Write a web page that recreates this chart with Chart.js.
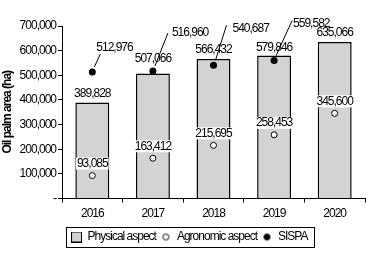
<!DOCTYPE html>
<html>
<head>
<meta charset="utf-8">
<script src="https://cdn.jsdelivr.net/npm/chart.js@4"></script>
<style>
  html, body { margin: 0; padding: 0; background: #fff; }
  #wrap { width: 371px; height: 255px; }
</style>
</head>
<body>
<div id="wrap"><canvas id="chart" width="371" height="255"></canvas></div>
<script>
const years = ['2016', '2017', '2018', '2019', '2020'];
const physical = [389828, 507066, 566432, 579846, 635066];
const agronomic = [93085, 163412, 215695, 258453, 345600];
const sispa = [512976, 516960, 540687, 559582, null];

// no narrow face installed, so squeeze Liberation Sans a bit
const FONT = "'Liberation Sans Narrow', 'Liberation Sans', Arial, sans-serif";
const SQUEEZE = '-1px';
const fmt = v => v.toLocaleString('en-US');

// small icons for the legend
function icon(kind) {
    const c = document.createElement('canvas');
    const g = c.getContext('2d');
    if (kind === 'rect') {
        c.width = 11; c.height = 11;
        g.fillStyle = '#d3d3d3';
        g.fillRect(0.5, 0.5, 10, 10);
        g.strokeStyle = '#000';
        g.lineWidth = 1;
        g.strokeRect(0.5, 0.5, 10, 10);
    } else {
        c.width = 9; c.height = 9;
        g.beginPath();
        g.arc(4.5, 4.5, 3, 0, Math.PI * 2);
        g.fillStyle = kind === 'open' ? '#fff' : '#000';
        g.fill();
        g.strokeStyle = '#000';
        g.lineWidth = 1;
        g.stroke();
    }
    return c;
}
const icons = [icon('rect'), icon('open'), icon('dot')];

const squeeze = {
    id: 'squeeze',
    afterInit(chart) { chart.ctx.letterSpacing = SQUEEZE; },
    beforeUpdate(chart) { chart.ctx.letterSpacing = SQUEEZE; },
    afterLayout(chart) {
        // legend sits a little right of centre in the original
        chart.legend.left += 7;
        chart.legend.right += 7;
    },
    beforeDraw(chart) { chart.ctx.letterSpacing = SQUEEZE; }
};

const valueLabels = {
    id: 'valueLabels',
    afterDatasetsDraw(chart, args, opts) {
        const ctx = chart.ctx;
        ctx.save();
        ctx.font = '12px ' + FONT;
        ctx.fillStyle = '#000';
        ctx.textAlign = 'center';
        ctx.textBaseline = 'middle';

        // bar values
        chart.getDatasetMeta(0).data.forEach((bar, i) => {
            ctx.fillText(fmt(physical[i]), bar.x, bar.y - opts.barGap[i]);
        });

        // agronomic values with white backing
        chart.getDatasetMeta(1).data.forEach((pt, i) => {
            const t = fmt(agronomic[i]);
            const w = ctx.measureText(t).width;
            const y = pt.y - 12;
            ctx.fillStyle = '#fff';
            ctx.fillRect(pt.x - w / 2 - 1, y - 6, w + 2, 12);
            ctx.fillStyle = '#000';
            ctx.fillText(t, pt.x, y);
        });

        // SISPA values with leader lines
        ctx.textAlign = 'left';
        ctx.strokeStyle = '#000';
        ctx.lineWidth = 1;
        chart.getDatasetMeta(2).data.forEach((pt, i) => {
            if (sispa[i] == null) return;
            const [lx, ly] = opts.sispaText[i];
            const [ex, ey] = opts.sispaLine[i];
            ctx.beginPath();
            ctx.moveTo(pt.x + 2, pt.y - 5);
            ctx.lineTo(pt.x + ex, pt.y + ey);
            ctx.stroke();
            ctx.fillText(fmt(sispa[i]), pt.x + lx, pt.y + ly);
        });
        ctx.restore();
    },
    afterDraw(chart) {
        const lg = chart.legend;
        if (!lg || !lg.legendHitBoxes.length) return;
        const boxes = lg.legendHitBoxes;
        const first = boxes[0], last = boxes[boxes.length - 1];
        const cy = first.top + first.height / 2;
        const ctx = chart.ctx;
        ctx.save();
        ctx.strokeStyle = '#000';
        ctx.lineWidth = 1;
        ctx.strokeRect(Math.round(first.left - 6) + 0.5, Math.round(cy - 10) + 0.5,
            Math.round(last.left + last.width + 6 - (first.left - 6)), 20);
        ctx.restore();
    }
};

new Chart(document.getElementById('chart').getContext('2d'), {
    type: 'bar',
    data: {
        labels: years,
        datasets: [{
            label: 'Physical aspect',
            data: physical,
            backgroundColor: '#d3d3d3',
            borderColor: '#000',
            borderWidth: 1.5,
            barPercentage: 0.56,
            categoryPercentage: 1,
            order: 2
        }, {
            type: 'line',
            label: 'Agronomic aspect',
            data: agronomic,
            showLine: false,
            pointRadius: 3,
            pointBackgroundColor: '#fff',
            pointBorderColor: '#000',
            pointBorderWidth: 1,
            order: 1
        }, {
            type: 'line',
            label: 'SISPA',
            data: sispa,
            showLine: false,
            pointRadius: 3.5,
            pointBackgroundColor: '#000',
            pointBorderColor: '#000',
            pointBorderWidth: 0,
            order: 1
        }]
    },
    options: {
        responsive: false,
        animation: false,
        devicePixelRatio: 1,
        layout: { padding: { top: 26, right: 6, bottom: 2, left: 0 } },
        scales: {
            x: {
                afterFit: s => { s.height = 27.5; },
                grid: { display: true, drawOnChartArea: false, tickLength: 4, color: '#000' },
                border: { color: '#000', width: 1 },
                ticks: { color: '#000', font: { family: FONT, size: 12 }, padding: 4 }
            },
            y: {
                min: 0,
                max: 700000,
                afterFit: s => { s.width = 62; },
                grid: { display: true, drawOnChartArea: false, tickLength: 4, color: '#000' },
                border: { color: '#000', width: 1 },
                ticks: {
                    stepSize: 100000,
                    color: '#000',
                    padding: 2,
                    font: { family: FONT, size: 12 },
                    callback: v => v === 0 ? '-' : fmt(v)
                },
                title: {
                    display: true,
                    text: 'Oil palm area (ha)',
                    color: '#000',
                    padding: 0,
                    font: { family: FONT, size: 12, weight: 'bold' }
                }
            }
        },
        plugins: {
            tooltip: { enabled: false },
            legend: {
                position: 'bottom',
                labels: {
                    color: '#000',
                    font: { family: FONT, size: 12 },
                    usePointStyle: true,
                    pointStyleWidth: 10,
                    boxHeight: 10,
                    padding: 5,
                    sort: (a, b) => a.datasetIndex - b.datasetIndex,
                    generateLabels: chart => Chart.defaults.plugins.legend.labels.generateLabels(chart)
                        .map(item => Object.assign(item, { pointStyle: icons[item.datasetIndex] }))
                }
            },
            valueLabels: {
                barGap: [9, 15, 9, 8, 9],
                sispaText: [[4, -24], [19, -38], [19, -37], [19, -37]],
                sispaLine: [[8, -18], [15, -38], [13, -40], [18, -40]]
            }
        }
    },
    plugins: [squeeze, valueLabels]
});
</script>
</body>
</html>
